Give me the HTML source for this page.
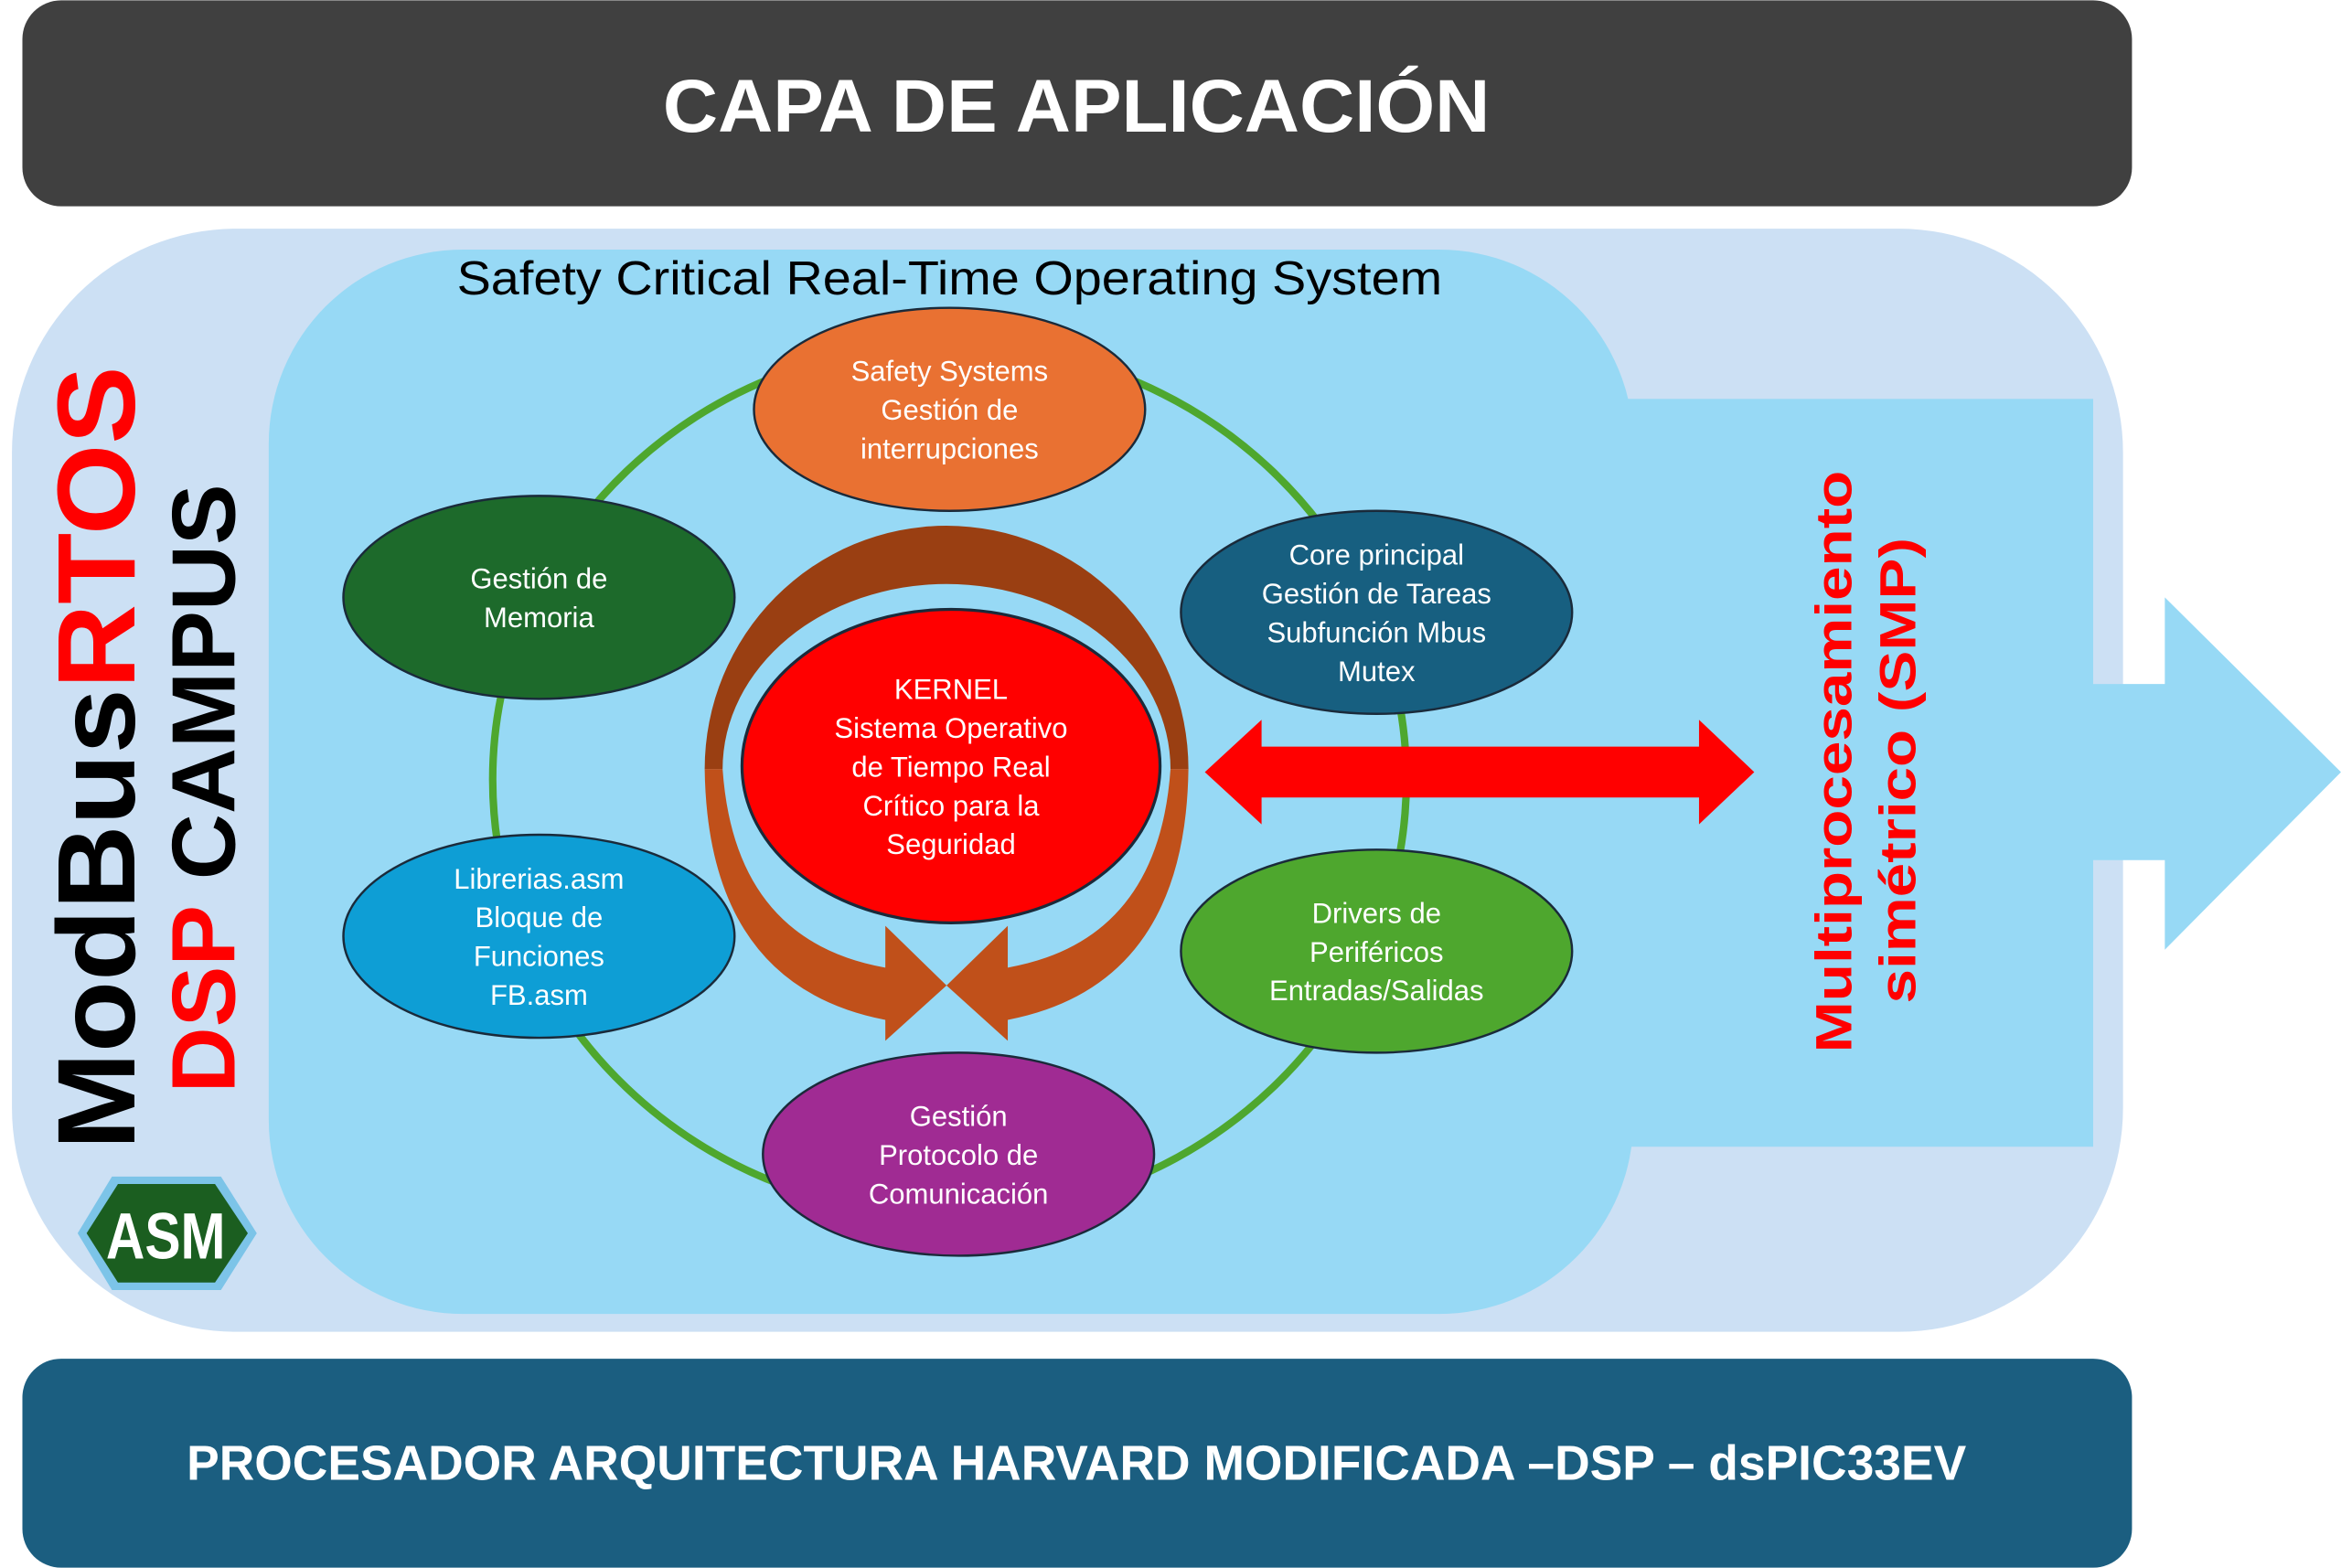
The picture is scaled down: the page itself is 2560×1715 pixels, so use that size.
<!DOCTYPE html>
<html><head><meta charset="utf-8"><style>html,body{margin:0;padding:0;background:#fff}svg{display:block}</style></head>
<body>
<svg width="2560" height="1715" viewBox="0 0 1568 1050" xmlns="http://www.w3.org/2000/svg" font-family="Liberation Sans, sans-serif">
<rect x="15" y="0" width="1413" height="138" rx="26" fill="#404040"/>
<text x="721" y="88" text-anchor="middle" fill="#fff" font-size="50" font-weight="bold" textLength="554" lengthAdjust="spacingAndGlyphs">CAPA DE APLICACIÓN</text>
<rect x="8" y="153" width="1414" height="739" rx="150" fill="#cce0f4"/>
<rect x="180" y="167" width="914" height="713" rx="130" fill="#97d9f5"/>
<rect x="1080" y="267" width="322" height="501" fill="#97d9f5"/>
<polygon points="1400,458 1450,458 1450,400 1568,517 1450,636 1450,576 1400,576" fill="#97d9f5"/>
<text x="636" y="197" text-anchor="middle" font-size="32" fill="#000" textLength="660" lengthAdjust="spacingAndGlyphs">Safety Critical Real-Time Operating System</text>
<ellipse cx="636" cy="522" rx="306" ry="292" fill="none" stroke="#4ea72e" stroke-width="5"/>
<path d="M472,515 A162,163 0 0 1 796,515 L784,515 A150,124 0 0 0 484,515 Z" fill="#9a3f12"/>
<path d="M472,515 Q474,660 593,683 L593,697 L634,660 L593,620 L593,648 Q492,630 484,515 Z" fill="#c0501a"/>
<path d="M796,515 Q794,660 675,683 L675,697 L634,660 L675,620 L675,648 Q776,630 784,515 Z" fill="#c0501a"/>
<ellipse cx="637" cy="513" rx="140" ry="105" fill="#ff0000" stroke="#1a2a3a" stroke-width="2"/>
<g fill="#fff" font-size="19" text-anchor="middle">
<text x="637" y="468">KERNEL</text>
<text x="637" y="494">Sistema Operativo</text>
<text x="637" y="520">de Tiempo Real</text>
<text x="637" y="546">Crítico para la</text>
<text x="637" y="572">Seguridad</text>
</g>
<polygon points="807,517 845,482 845,500 1138,500 1138,482 1175,517 1138,552 1138,534 845,534 845,552" fill="#ff0000"/>
<g stroke="#1a2a3a" stroke-width="1.5">
<ellipse cx="636" cy="274" rx="131" ry="68" fill="#e97132"/>
<ellipse cx="361" cy="400" rx="131" ry="68" fill="#1d6a2b"/>
<ellipse cx="922" cy="410" rx="131" ry="68" fill="#175f80"/>
<ellipse cx="361" cy="627" rx="131" ry="68" fill="#0e9ed5"/>
<ellipse cx="922" cy="637" rx="131" ry="68" fill="#4ea72e"/>
<ellipse cx="642" cy="773" rx="131" ry="68" fill="#a02b93"/>
</g>
<g fill="#fff" font-size="19" text-anchor="middle">
<text x="636" y="255">Safety Systems</text><text x="636" y="281">Gestión de</text><text x="636" y="307">interrupciones</text>
<text x="361" y="394">Gestión de</text><text x="361" y="420">Memoria</text>
<text x="922" y="378">Core principal</text><text x="922" y="404">Gestión de Tareas</text><text x="922" y="430">Subfunción Mbus</text><text x="922" y="456">Mutex</text>
<text x="361" y="595">Librerias.asm</text><text x="361" y="621">Bloque de</text><text x="361" y="647">Funciones</text><text x="361" y="673">FB.asm</text>
<text x="922" y="618">Drivers de</text><text x="922" y="644">Periféricos</text><text x="922" y="670">Entradas/Salidas</text>
<text x="642" y="754">Gestión</text><text x="642" y="780">Protocolo de</text><text x="642" y="806">Comunicación</text>
</g>
<text transform="translate(90,770) rotate(-90)" font-size="74" font-weight="bold" textLength="525" lengthAdjust="spacingAndGlyphs"><tspan fill="#000">ModBus</tspan><tspan fill="#ff0000">RTOS</tspan></text>
<text transform="translate(157,732) rotate(-90)" font-size="60" font-weight="bold" textLength="408" lengthAdjust="spacingAndGlyphs"><tspan fill="#ff0000">DSP</tspan><tspan fill="#000"> CAMPUS</tspan></text>
<text transform="translate(1240,705) rotate(-90)" font-size="34" font-weight="bold" fill="#ff0000" textLength="390" lengthAdjust="spacingAndGlyphs">Multiprocesamiento</text>
<text transform="translate(1283,672) rotate(-90)" font-size="34" font-weight="bold" fill="#ff0000" textLength="312" lengthAdjust="spacingAndGlyphs">simétrico (SMP)</text>
<polygon points="52,826 75,788 148,788 172,826 148,864 75,864" fill="#7cc4e8"/>
<polygon points="58,826 79,793 144,793 166,826 144,859 79,859" fill="#1b5e20"/>
<text x="111" y="843" text-anchor="middle" fill="#fff" font-size="44" font-weight="bold" textLength="80" lengthAdjust="spacingAndGlyphs">ASM</text>
<rect x="15" y="910" width="1413" height="140" rx="26" fill="#1b5e80"/>
<text x="721" y="991" text-anchor="middle" fill="#fff" font-size="33" font-weight="bold" textLength="1192" lengthAdjust="spacingAndGlyphs">PROCESADOR ARQUITECTURA HARVARD MODIFICADA –DSP – dsPIC33EV</text>
</svg>
</body></html>
